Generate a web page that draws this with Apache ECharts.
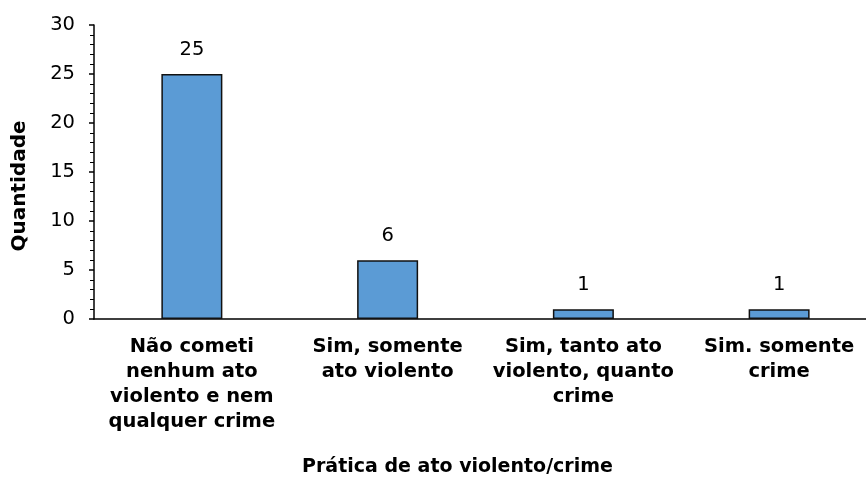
<!DOCTYPE html>
<html>
<head>
<meta charset="utf-8">
<script src="https://cdn.jsdelivr.net/npm/echarts@6/dist/echarts.min.js"></script>
<style>
    html, body { margin: 0; padding: 0; background: #fff; }
    #chart { width: 866px; height: 478px; }
</style>
</head>
<body>
<div id="chart"></div>
<script>
    var categories = [
        'Não cometi\nnenhum ato\nviolento e nem\nqualquer crime',
        'Sim, somente\nato violento',
        'Sim, tanto ato\nviolento, quanto\ncrime',
        'Sim. somente\ncrime'
    ];
    var quantidade = [25, 6, 1, 1];
    var yTicks = [0, 5, 10, 15, 20, 25, 30];

    var myChart = echarts.init(document.getElementById('chart'));
    var font = '"DejaVu Sans", Arial, sans-serif';
    var option = {
        animation: false,
        textStyle: {fontFamily: font},
        grid: {
            left: 94,
            width: 783,
            top: 25,
            bottom: 159,
            containLabel: false,
            outerBoundsMode: 'none'
        },
        xAxis: {
            type: 'category',
            data: categories,
            name: 'Prática de ato violento/crime',
            nameLocation: 'middle',
            nameGap: 139,
            nameTextStyle: {
                color: '#000', fontSize: 19, fontWeight: 'bold', fontFamily: font,
                padding: [0, 56, 0, 0]
            },
            axisLine: {lineStyle: {color: '#000', width: 1.5}},
            axisTick: {alignWithLabel: true, length: 5, lineStyle: {color: '#000', width: 1.5}},
            axisLabel: {
                color: '#000', fontSize: 19.5, fontWeight: 'bold', fontFamily: font,
                lineHeight: 25, margin: 15, interval: 0
            }
        },
        yAxis: {
            type: 'value',
            min: 0,
            max: 30,
            interval: 5,
            name: 'Quantidade',
            nameLocation: 'middle',
            nameGap: 64,
            nameTextStyle: {
                color: '#000', fontSize: 20, fontWeight: 'bold', fontFamily: font,
                padding: [0, 28, 0, 0]
            },
            axisLine: {show: true, lineStyle: {color: '#000', width: 1.5}},
            axisTick: {show: true, length: 5, lineStyle: {color: '#000', width: 1.5}},
            minorTick: {show: true, splitNumber: 5, length: 4, lineStyle: {color: '#000', width: 1}},
            splitLine: {show: false},
            axisLabel: {
                color: '#000', fontSize: 19.5, fontFamily: font, margin: 19,
                formatter: function (v) { return yTicks.indexOf(v) >= 0 ? String(v) : ''; }
            }
        },
        series: [{
            type: 'bar',
            data: quantidade,
            barWidth: 61,
            itemStyle: {color: '#5b9bd5', borderColor: '#111', borderWidth: 1.5},
            label: {
                show: true,
                position: 'top',
                distance: 14,
                color: '#000',
                fontSize: 19.5,
                fontFamily: font
            }
        }]
    };
    myChart.setOption(option);
</script>
</body>
</html>
